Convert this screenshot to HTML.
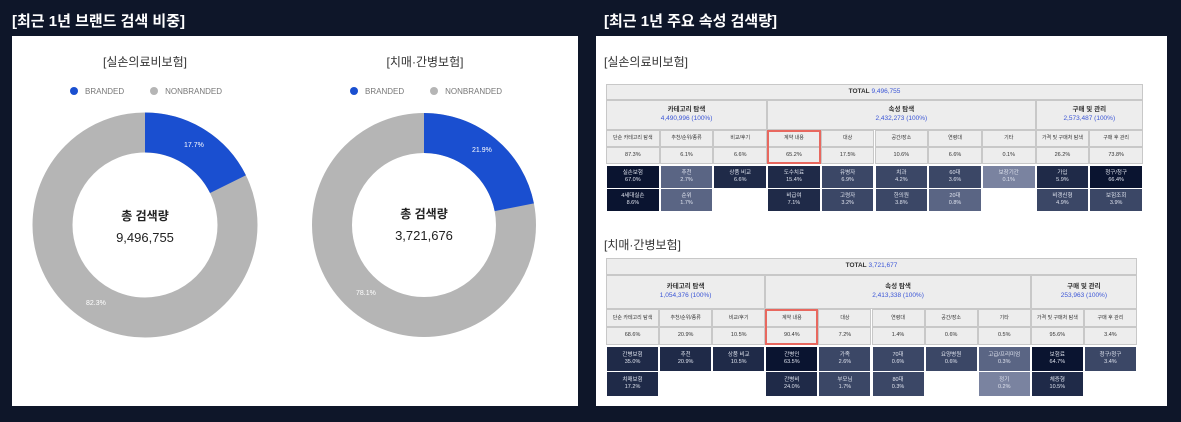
<!DOCTYPE html>
<html><head><meta charset="utf-8"><style>
*{margin:0;padding:0;box-sizing:border-box}
body{width:1181px;height:422px;background:#0e1629;position:relative;overflow:hidden;font-family:"Liberation Sans","Noto Sans CJK KR",sans-serif}
.h{position:absolute;color:#fff;font-size:15px;font-weight:bold}
.panel{position:absolute;background:#fff}
.t{position:absolute;font-size:12px;color:#333;text-align:center}
.lg{position:absolute;font-size:8px;color:#777}
.dot{display:inline-block;width:8px;height:8px;border-radius:50%;vertical-align:-1px;margin-right:7px}
.c{position:absolute;display:flex;flex-direction:column;align-items:center;justify-content:center;text-align:center;font-size:5.5px;line-height:1.35}
.g{background:#ededed;border:1px solid #c8c8c8;color:#333}
.d{color:#dfe3ee}
.b{color:#3a55d6}
</style></head><body>
<div class="h" style="left:12px;top:10px">[최근 1년 브랜드 검색 비중]</div>
<div class="h" style="left:604px;top:10px">[최근 1년 주요 속성 검색량]</div>
<div class="panel" style="left:12px;top:36px;width:566px;height:370px"></div>
<div class="panel" style="left:596px;top:36px;width:571px;height:370px"></div>

<div class="t" style="left:60px;top:53px;width:170px">[실손의료비보험]</div>
<div class="t" style="left:340px;top:53px;width:170px">[치매·간병보험]</div>
<div class="lg" style="left:70px;top:87px"><span class="dot" style="background:#1a4fd0"></span>BRANDED<span style="display:inline-block;width:26px"></span><span class="dot" style="background:#b5b5b5"></span>NONBRANDED</div>
<div class="lg" style="left:350px;top:87px"><span class="dot" style="background:#1a4fd0"></span>BRANDED<span style="display:inline-block;width:26px"></span><span class="dot" style="background:#b5b5b5"></span>NONBRANDED</div>

<svg style="position:absolute;left:0;top:0" width="600" height="422">
<g transform="translate(145,225) rotate(-90)">
<circle r="92.5" fill="none" stroke="#b5b5b5" stroke-width="40"/>
<circle r="92.5" fill="none" stroke="#1a4fd0" stroke-width="40" stroke-dasharray="102.9 1000"/>
</g>
<g transform="translate(424,225) rotate(-90)">
<circle r="92" fill="none" stroke="#b5b5b5" stroke-width="40"/>
<circle r="92" fill="none" stroke="#1a4fd0" stroke-width="40" stroke-dasharray="126.6 1000"/>
</g>
<g font-family="Liberation Sans,sans-serif" font-size="7" fill="#fff">
<text x="184" y="147">17.7%</text><text x="86" y="305">82.3%</text>
<text x="472" y="152">21.9%</text><text x="356" y="295">78.1%</text>
</g>
<g font-family="Liberation Sans,Noto Sans CJK KR,sans-serif" fill="#222" text-anchor="middle">
<text x="145" y="220" font-size="12" font-weight="bold">총 검색량</text>
<text x="145" y="242" font-size="13">9,496,755</text>
<text x="424" y="218" font-size="12" font-weight="bold">총 검색량</text>
<text x="424" y="240" font-size="13">3,721,676</text>
</g>
</svg>

<div class="t" style="left:604px;top:53px;text-align:left">[실손의료비보험]</div>
<div class="t" style="left:604px;top:236px;text-align:left">[치매·간병보험]</div>
<div id="t1"></div><div id="t2"></div>
<script>
function build(x,y,w,tot,groups,labels,pcts,rows,rh){
 let h='';const cw=w/10;const H=rh;
 h+=`<div class="c g" style="flex-direction:row;left:${x}px;top:${y}px;width:${w}px;height:${H[0]}px;font-size:6.5px;font-weight:bold">TOTAL&nbsp;<span class="b" style="font-weight:normal">${tot}</span></div>`;
 let y1=y+H[0],cx=x;
 groups.forEach(g=>{h+=`<div class="c g" style="left:${cx}px;top:${y1}px;width:${cw*g[0]}px;height:${H[1]}px;font-size:6.5px"><b>${g[1]}</b><span class="b">${g[2]}</span></div>`;cx+=cw*g[0];});
 let y2=y1+H[1];
 labels.forEach((l,i)=>{h+=`<div class="c g" style="left:${x+i*cw}px;top:${y2}px;width:${cw}px;height:${H[2]}px;font-size:5px">${l}</div>`;
  h+=`<div class="c g" style="left:${x+i*cw}px;top:${y2+H[2]}px;width:${cw}px;height:${H[3]}px;font-size:5.5px">${pcts[i]}</div>`;});
 h+=`<div style="position:absolute;left:${x+3*cw}px;top:${y2}px;width:${cw}px;height:${H[2]+H[3]}px;border:2px solid #e8685f"></div>`;
 let y3=y2+H[2]+H[3]+2;
 rows.forEach((r,ri)=>{r.forEach((c,i)=>{if(!c)return;h+=`<div class="c d" style="left:${x+i*cw+1}px;top:${y3+ri*(H[4]+1)}px;width:${cw-2}px;height:${H[4]}px;background:${c[2]}">${c[0]}<br>${c[1]}</div>`;});});
 return h;}
const D='#0a1430',M='#1f2a48',L='#3b4766',P='#5a6584',Q='#7a83a0';
document.getElementById('t1').innerHTML=build(606,84,537,'9,496,755',[[3,'카테고리 탐색','4,490,996 (100%)'],[5,'속성 탐색','2,432,273 (100%)'],[2,'구매 및 관리','2,573,487 (100%)']],
['단순 카테고리 탐색','추천/순위/종류','비교/후기','계약 내용','대상','공간/장소','연령대','기타','가격 및 구매처 탐색','구매 후 관리'],
['87.3%','6.1%','6.6%','65.2%','17.5%','10.6%','6.6%','0.1%','26.2%','73.8%'],
[[['실손보험','67.0%',D],['추천','2.7%',P],['상품 비교','6.6%',M],['도수치료','15.4%',M],['유병자','6.9%',L],['치과','4.2%',L],['60대','3.6%',L],['보장기간','0.1%',Q],['가입','5.9%',M],['청구/청구','66.4%',D]],
 [['4세대실손','8.6%',D],['순위','1.7%',P],null,['비급여','7.1%',M],['고령자','3.2%',L],['한의원','3.8%',L],['20대','0.8%',P],null,['비갱신형','4.9%',L],['보험조회','3.9%',L]]],[16,30,17,17,22]);
document.getElementById('t2').innerHTML=build(606,258,531,'3,721,677',[[3,'카테고리 탐색','1,054,376 (100%)'],[5,'속성 탐색','2,413,338 (100%)'],[2,'구매 및 관리','253,963 (100%)']],
['단순 카테고리 탐색','추천/순위/종류','비교/후기','계약 내용','대상','연령대','공간/장소','기타','가격 및 구매처 탐색','구매 후 관리'],
['68.6%','20.9%','10.5%','90.4%','7.2%','1.4%','0.6%','0.5%','95.6%','3.4%'],
[[['간병보험','35.0%',M],['추천','20.9%',M],['상품 비교','10.5%',M],['간병인','63.5%',D],['가족','2.6%',L],['70대','0.6%',L],['요양병원','0.6%',L],['고급/프리미엄','0.3%',P],['보험료','64.7%',D],['청구/청구','3.4%',L]],
 [['치매보험','17.2%',M],null,null,['간병비','24.0%',M],['부모님','1.7%',L],['80대','0.3%',L],null,['정기','0.2%',Q],['체증형','10.5%',M],null]],[17,34,18,18,24]);
</script>
</body></html>
